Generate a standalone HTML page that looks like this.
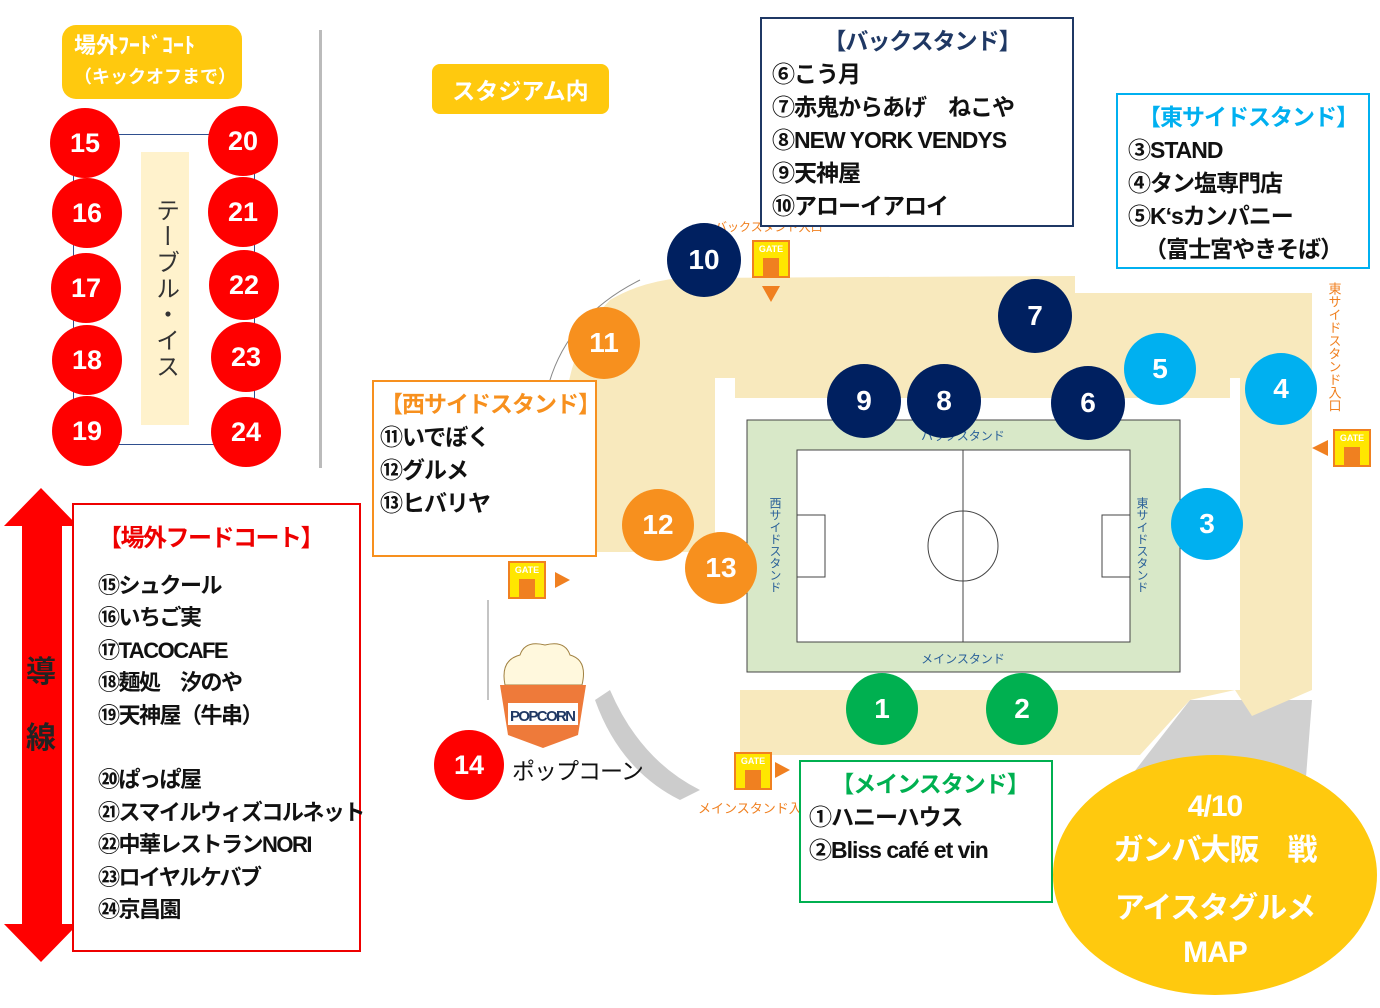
<!DOCTYPE html>
<html><head><meta charset="utf-8"><style>
body{margin:0;width:1380px;height:1008px;background:#fff;position:relative;overflow:hidden;font-family:"Liberation Sans","Noto Sans CJK JP",sans-serif}
.a{position:absolute}
.c{position:absolute;border-radius:50%;color:#fff;font-weight:bold;display:flex;align-items:center;justify-content:center;font-size:28px}
.r{background:#f00;width:70px;height:70px;font-size:27px}
.n{background:#002060;width:74px;height:74px}
.b{background:#00b0f0;width:72px;height:72px}
.o{background:#f7901e;width:72px;height:72px}
.g{background:#00b050;width:72px;height:72px}
.box{position:absolute;background:#fff;border:2px solid;font-weight:bold;font-size:23px;line-height:33px;color:#111;box-sizing:border-box;white-space:nowrap;letter-spacing:-1px}
.ttl{text-align:center}
.gate{position:absolute;width:38px;height:38px;background:#ffe600;border:2px solid #f08020;box-sizing:border-box;font-size:9px;color:#fff;font-weight:bold;text-align:center;line-height:14px}
.gate:after{content:"";position:absolute;left:9px;top:16px;width:16px;height:18px;background:#f08020}
</style></head><body>
<div class="a" style="left:62px;top:25px;width:180px;height:74px;background:#ffc90e;border-radius:14px;color:#fff;font-weight:bold;font-size:22px;line-height:30px;padding:6px 0 0 12px;box-sizing:border-box">場外ﾌｰﾄﾞｺｰﾄ<br><span style="font-size:18px">（キックオフまで）</span></div>
<div class="a" style="left:319px;top:30px;width:3px;height:438px;background:#bbb"></div>
<div class="a" style="left:73px;top:134px;width:182px;height:311px;border:1.5px solid #2f4f8f;box-sizing:border-box"></div>
<div class="a" style="left:141px;top:152px;width:48px;height:273px;background:#fff2cc;writing-mode:vertical-rl;font-size:24px;color:#333;display:flex;align-items:center;justify-content:center;letter-spacing:2px">テーブル・イス</div>
<div class="c r" style="left:50px;top:108px">15</div>
<div class="c r" style="left:52px;top:178px">16</div>
<div class="c r" style="left:51px;top:253px">17</div>
<div class="c r" style="left:52px;top:325px">18</div>
<div class="c r" style="left:52px;top:396px">19</div>
<div class="c r" style="left:208px;top:106px">20</div>
<div class="c r" style="left:208px;top:177px">21</div>
<div class="c r" style="left:209px;top:250px">22</div>
<div class="c r" style="left:211px;top:322px">23</div>
<div class="c r" style="left:211px;top:397px">24</div>

<svg class="a" style="left:0;top:486px" width="82" height="478"><polygon points="41,2 78,40 62,40 62,438 78,438 41,476 4,438 22,438 22,40 4,40" fill="#f00"/></svg>
<div class="a" style="left:26px;top:640px;font-size:30px;font-weight:bold;color:#222;line-height:66px">導<br>線</div>
<div class="box" style="left:72px;top:503px;width:289px;height:449px;border-color:#e00;padding:18px 0 0 24px;line-height:32.5px;font-size:22px;letter-spacing:-1.5px">
<div style="color:#e00;font-size:24px;margin-bottom:14px">【場外フードコート】</div>
⑮シュクール<br>⑯いちご実<br>⑰TACOCAFE<br>⑱麺処　汐のや<br>⑲天神屋（牛串）<br><div style="height:32px"></div>⑳ぱっぱ屋<br>㉑スマイルウィズコルネット<br>㉒中華レストランNORI<br>㉓ロイヤルケバブ<br>㉔京昌園</div>

<div class="a" style="left:432px;top:64px;width:177px;height:50px;background:#ffc90e;border-radius:8px;color:#fff;font-weight:bold;font-size:23px;display:flex;align-items:center;justify-content:center">スタジアム内</div>

<svg class="a" style="left:0;top:0" width="1380" height="1008">
<path d="M1190,700 L1312,700 L1305,790 L1200,810 L1120,790 Z" fill="#d0d0d0"/>
<path d="M610,690 Q640,760 700,790 L680,800 Q620,770 595,700Z" fill="#ccc"/>
<path d="M610,300 Q640,282 680,278 L1075,276 L1075,293 L1312,293 L1312,690 L1252,716 L1235,690 L1190,700 L1140,755 L740,755 L740,690 L715,690 L715,552 L590,552 L565,540 L563,420 Q570,340 610,300 Z" fill="#f8e9bd"/>
<rect x="715" y="378" width="525" height="312" fill="#fff"/>
<rect x="735" y="378" width="495" height="20" fill="#f8e9bd"/>
<rect x="747" y="420" width="433" height="252" fill="#d8e8c8" stroke="#444"/>
<rect x="797" y="450" width="333" height="192" fill="#fff" stroke="#444"/>
<line x1="963" y1="450" x2="963" y2="642" stroke="#444"/>
<circle cx="963" cy="546" r="35" fill="none" stroke="#444"/>
<rect x="797" y="515" width="28" height="62" fill="none" stroke="#444"/><rect x="1102" y="515" width="28" height="62" fill="none" stroke="#444"/>
<path d="M545,400 Q560,320 640,280" fill="none" stroke="#888"/>
<path d="M488,600 L488,700" stroke="#888" fill="none"/>
<text x="963" y="440" font-size="12" fill="#2a6099" text-anchor="middle">バックスタンド</text>
<text x="963" y="663" font-size="12" fill="#2a6099" text-anchor="middle">メインスタンド</text>
<text x="775" y="497" font-size="12" fill="#2a6099" writing-mode="tb">西サイドスタンド</text>
<text x="1142" y="497" font-size="12" fill="#2a6099" writing-mode="tb">東サイドスタンド</text>
<text x="715" y="231" font-size="12" fill="#f08020">バックスタンド入口</text>
<text x="698" y="813" font-size="13" fill="#f08020">メインスタンド入口</text>
<text x="1334" y="282" font-size="13" fill="#f08020" writing-mode="tb">東サイドスタンド入口</text>
<polygon points="762,286 780,286 771,302" fill="#f08020"/>
<polygon points="1312,448 1328,440 1328,456" fill="#f08020"/>
<polygon points="555,572 570,580 555,588" fill="#f08020"/>
<polygon points="775,762 790,770 775,778" fill="#f08020"/>
<g transform="translate(500,640)">
<path d="M5,45 Q0,20 20,15 Q25,0 45,5 Q65,0 70,15 Q88,20 82,45Z" fill="#fff8dd" stroke="#a08040"/>
<polygon points="0,45 86,45 78,95 43,108 8,95" fill="#ee7a3a"/>
<rect x="8" y="63" width="70" height="22" fill="#fff"/>
<text x="43" y="81" font-size="15" font-weight="bold" fill="#1f3864" text-anchor="middle" textLength="66">POPCORN</text></g>
</svg>
<div class="gate" style="left:752px;top:240px">GATE</div>
<div class="gate" style="left:1333px;top:429px">GATE</div>
<div class="gate" style="left:508px;top:561px">GATE</div>
<div class="gate" style="left:734px;top:752px">GATE</div>
<div class="a" style="left:512px;top:752px;font-size:23px;color:#111;letter-spacing:-1px">ポップコーン</div>

<div class="c n" style="left:667px;top:223px">10</div>
<div class="c n" style="left:998px;top:279px">7</div>
<div class="c n" style="left:827px;top:364px">9</div>
<div class="c n" style="left:907px;top:364px">8</div>
<div class="c n" style="left:1051px;top:366px">6</div>
<div class="c b" style="left:1124px;top:333px">5</div>
<div class="c b" style="left:1245px;top:353px">4</div>
<div class="c b" style="left:1171px;top:488px">3</div>
<div class="c o" style="left:568px;top:307px">11</div>
<div class="c o" style="left:622px;top:489px">12</div>
<div class="c o" style="left:685px;top:532px">13</div>
<div class="c g" style="left:846px;top:673px">1</div>
<div class="c g" style="left:986px;top:673px">2</div>
<div class="c r" style="left:434px;top:730px;width:70px;height:70px">14</div>

<div class="box" style="left:760px;top:17px;width:314px;height:210px;border-color:#1f3864;padding:6px 0 0 10px">
<div class="ttl" style="color:#1f3864">【バックスタンド】</div>⑥こう月<br>⑦赤鬼からあげ　ねこや<br>⑧NEW YORK VENDYS<br>⑨天神屋<br>⑩アローイアロイ</div>
<div class="box" style="left:1116px;top:93px;width:254px;height:176px;border-color:#00b0f0;padding:6px 0 0 10px">
<div class="ttl" style="color:#00b0f0">【東サイドスタンド】</div>③STAND<br>④タン塩専門店<br>⑤K‘sカンパニー<br>&nbsp;&nbsp;&nbsp;（富士宮やきそば）</div>
<div class="box" style="left:372px;top:380px;width:225px;height:177px;border-color:#f7901e;padding:6px 0 0 6px">
<div style="color:#f7901e">【西サイドスタンド】</div>⑪いでぼく<br>⑫グルメ<br>⑬ヒバリヤ</div>
<div class="box" style="left:799px;top:760px;width:254px;height:143px;border-color:#00b050;padding:6px 0 0 8px">
<div class="ttl" style="color:#00b050">【メインスタンド】</div>①ハニーハウス<br>②Bliss café et vin</div>

<div class="a" style="left:1053px;top:755px;width:324px;height:240px;border-radius:50%;background:#ffc90e;color:#fff;font-weight:bold;font-size:30px;text-align:center;line-height:44px;padding-top:30px;box-sizing:border-box;letter-spacing:-1px">4/10<br>ガンバ大阪　戦<br><div style="height:14px"></div>アイスタグルメ<br>MAP</div>
</body></html>
